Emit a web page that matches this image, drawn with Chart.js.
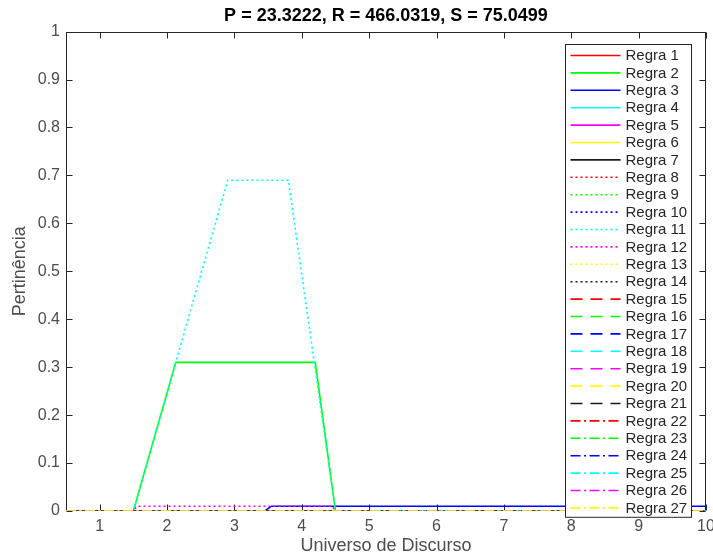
<!DOCTYPE html>
<html lang="pt">
<head>
    <meta charset="UTF-8">
    <title>Pertinência das regras</title>
    <style>
        body {
            margin: 0;
            background: #fff;
        }

        #chart {
            display: block;
        }
    </style>
</head>
<body>
    <canvas id="chart" width="713" height="557"></canvas>

    <script src="https://cdn.jsdelivr.net/npm/chart.js"></script>
    <script>
        // ticks dos eixos
        const xTicks = [1, 2, 3, 4, 5, 6, 7, 8, 9, 10];
        const yTicks = [0, 0.1, 0.2, 0.3, 0.4, 0.5, 0.6, 0.7, 0.8, 0.9, 1];

        // regras com pertinencia nao nula
        const regra2X = [0.5, 1.5, 2.13, 4.2, 4.5, 10];
        const regra2Y = [0, 0, 0.31, 0.31, 0, 0];
        const regra3X = [0.5, 3.45, 3.55, 10];
        const regra3Y = [0, 0, 0.01, 0.01];
        const regra11X = [0.5, 1.5, 2.9, 3.8, 4.5, 10];
        const regra11Y = [0, 0, 0.69, 0.69, 0, 0];
        const regra12X = [0.5, 1.5, 1.55, 4.45, 4.5, 10];
        const regra12Y = [0, 0, 0.01, 0.01, 0, 0];

        // todas as outras regras ficam em zero
        const zeroX = [0.5, 10];
        const zeroY = [0, 0];

        const curvas = {
            2: [regra2X, regra2Y],
            3: [regra3X, regra3Y],
            11: [regra11X, regra11Y],
            12: [regra12X, regra12Y]
        };

        // estilos do MATLAB: r g b c m y k  x  '-' ':' '--' '-.'
        const cores = ['#ff0000', '#00ff00', '#0000ff', '#00ffff', '#ff00ff', '#ffff00', '#1a1a1a'];
        const tracos = [[], [2, 3], [12, 8], [10, 3.5, 2, 3.5]];

        const fonte = 'Liberation Sans, Arial, Helvetica, sans-serif';
        const nRegras = 27;

        const datasets = [];
        for (let i = 0; i < nRegras; i++) {
            const n = i + 1;
            const [xs, ys] = curvas[n] || [zeroX, zeroY];
            datasets.push({
                label: 'Regra ' + n,
                data: xs.map((x, k) => ({ x: x, y: ys[k] })),
                borderColor: cores[i % 7],
                borderDash: tracos[Math.floor(i / 7)],
                borderWidth: 1.6,
                pointRadius: 0,
                fill: false,
                order: nRegras - i // ultima regra por cima, como no MATLAB
            });
        }

        // caixa dos eixos com ticks para dentro
        const eixos = {
            id: 'eixos',
            beforeDatasetsDraw(chart) {
                const { ctx, chartArea: a, scales: { x, y } } = chart;
                const L = Math.round(a.left) + 0.5, R = Math.round(a.right) - 0.5;
                const T = Math.round(a.top) + 0.5, B = Math.round(a.bottom) - 0.5;
                ctx.save();
                ctx.strokeStyle = '#262626';
                ctx.lineWidth = 1;
                ctx.strokeRect(L, T, R - L, B - T);
                ctx.beginPath();
                xTicks.forEach(v => {
                    const px = Math.round(x.getPixelForValue(v)) + 0.5;
                    ctx.moveTo(px, B); ctx.lineTo(px, B - 6);
                    ctx.moveTo(px, T); ctx.lineTo(px, T + 6);
                });
                yTicks.forEach(v => {
                    const py = Math.round(y.getPixelForValue(v)) + 0.5;
                    ctx.moveTo(L, py); ctx.lineTo(L + 6, py);
                    ctx.moveTo(R, py); ctx.lineTo(R - 6, py);
                });
                ctx.stroke();
                ctx.restore();
            }
        };

        // legenda dentro da area do grafico, canto superior direito
        const legenda = {
            id: 'legenda',
            afterDraw(chart) {
                const { ctx, chartArea: a } = chart;
                const passo = 17.4;
                const w = 126, h = nRegras * passo + 3;
                const left = Math.round(a.right - 15 - w) + 0.5;
                const top = Math.round(a.top + 12) + 0.5;
                ctx.save();
                ctx.fillStyle = '#fff';
                ctx.fillRect(left, top, w, h);
                ctx.strokeStyle = '#262626';
                ctx.lineWidth = 1;
                ctx.strokeRect(left, top, w, h);
                ctx.font = '15px ' + fonte;
                ctx.textBaseline = 'middle';
                ctx.textAlign = 'left';
                chart.data.datasets.forEach((ds, i) => {
                    const cy = top + 11 + i * passo;
                    ctx.strokeStyle = ds.borderColor;
                    ctx.lineWidth = ds.borderWidth;
                    ctx.setLineDash(ds.borderDash);
                    ctx.beginPath();
                    ctx.moveTo(left + 5, cy);
                    ctx.lineTo(left + 55, cy);
                    ctx.stroke();
                    ctx.setLineDash([]);
                    ctx.fillStyle = '#262626';
                    ctx.fillText(ds.label, left + 60, cy + 0.5);
                });
                ctx.restore();
            }
        };

        const ctx = document.getElementById('chart').getContext('2d');
        new Chart(ctx, {
            type: 'line',
            data: { datasets: datasets },
            plugins: [eixos, legenda],
            options: {
                responsive: false,
                animation: false,
                devicePixelRatio: 1,
                layout: { padding: { left: 0, right: 7, top: 0, bottom: 0 } },
                elements: { line: { tension: 0 } },
                plugins: {
                    legend: { display: false },
                    tooltip: { enabled: false },
                    title: {
                        display: true,
                        fullSize: false,
                        text: 'P = 23.3222, R = 466.0319, S = 75.0499',
                        color: '#000',
                        font: { family: fonte, size: 18, weight: 'bold', lineHeight: 1.2 },
                        padding: { top: 5, bottom: 5 }
                    }
                },
                scales: {
                    x: {
                        type: 'linear',
                        min: 0.5,
                        max: 10,
                        afterBuildTicks: s => { s.ticks = xTicks.map(v => ({ value: v })); },
                        afterFit: s => {
                            s.height = 46;
                            s.paddingLeft = 0;
                            s.paddingRight = 0;
                        },
                        grid: { display: false, drawTicks: false },
                        border: { display: false },
                        ticks: {
                            autoSkip: false,
                            maxRotation: 0,
                            padding: 6,
                            color: '#4d4d4d',
                            font: { family: fonte, size: 16 },
                            callback: v => String(v)
                        },
                        title: {
                            display: true,
                            text: 'Universo de Discurso',
                            color: '#4d4d4d',
                            font: { family: fonte, size: 18 },
                            padding: { top: 0, bottom: 0 }
                        }
                    },
                    y: {
                        type: 'linear',
                        min: 0,
                        max: 1,
                        afterBuildTicks: s => { s.ticks = yTicks.map(v => ({ value: v })); },
                        afterFit: s => {
                            s.width = 66;
                            s.paddingTop = 0;
                            s.paddingBottom = 0;
                        },
                        grid: { display: false, drawTicks: false },
                        border: { display: false },
                        ticks: {
                            autoSkip: false,
                            padding: 6,
                            color: '#4d4d4d',
                            font: { family: fonte, size: 16 },
                            callback: v => String(v)
                        },
                        title: {
                            display: true,
                            text: 'Pertinência',
                            color: '#4d4d4d',
                            font: { family: fonte, size: 18 },
                            padding: { top: 9, bottom: 0 }
                        }
                    }
                }
            }
        });
    </script>
</body>
</html>
